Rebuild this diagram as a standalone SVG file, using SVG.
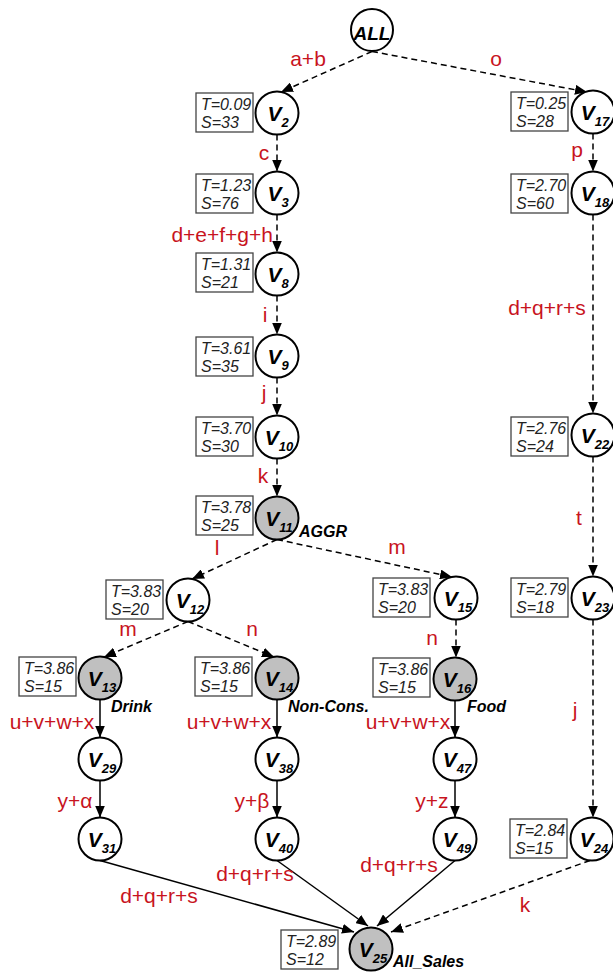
<svg xmlns="http://www.w3.org/2000/svg" width="613" height="973" viewBox="0 0 613 973">
  <defs>
    <marker id="arrow" markerUnits="userSpaceOnUse" markerWidth="12" markerHeight="10" refX="12" refY="5" orient="auto">
      <path d="M0,0 L12,5 L0,10 z" fill="#000"/>
    </marker>
    <style>
      .node circle { fill: #fff; stroke: #000; stroke-width: 2; }
      .node.agg circle { fill: #c0c0c0; }
      .box { fill: #fff; stroke: #444; stroke-width: 1.3; }
      .st { font-family: "Liberation Sans", Arial, sans-serif; font-style: italic; font-size: 16px; fill: #222; }
      .nl { font-family: "Liberation Sans", Arial, sans-serif; font-style: italic; font-weight: bold; font-size: 21px; fill: #000; text-anchor: middle; }
      .sub { font-size: 13px; }
      .tag { font-family: "Liberation Sans", Arial, sans-serif; font-style: italic; font-weight: bold; font-size: 16px; fill: #000; }
      .el { font-family: "Liberation Sans", Arial, sans-serif; font-size: 21px; fill: #c8141e; text-anchor: middle; }
      .dash { fill: none; stroke: #000; stroke-width: 1.5; stroke-dasharray: 6 4; marker-end: url(#arrow); }
      .solid { fill: none; stroke: #000; stroke-width: 1.5; marker-end: url(#arrow); }
    </style>
  </defs>
  <rect width="613" height="973" fill="#fff"/>

  <!-- connectors -->
  <g id="edges">
    <path class="dash" d="M372,51.5 L281,92"/>
    <path class="dash" d="M372,51.5 L587,92"/>
    <path class="dash" d="M277,134.5 L277,171.5"/>
    <path class="dash" d="M277,214.5 L277,252.5"/>
    <path class="dash" d="M277,295.5 L277,334.5"/>
    <path class="dash" d="M277,377.5 L277,415.5"/>
    <path class="dash" d="M277,458.5 L277,496.5"/>
    <path class="dash" d="M277,539.5 L192,579"/>
    <path class="dash" d="M277,539.5 L452,577"/>
    <path class="dash" d="M188,621.5 L104,657"/>
    <path class="dash" d="M188,621.5 L274,657"/>
    <path class="dash" d="M456,619.5 L456,657.5"/>
    <path class="solid" d="M100,699.5 L100,737.5"/>
    <path class="solid" d="M277,699.5 L277,737.5"/>
    <path class="solid" d="M455,700.5 L455,737.5"/>
    <path class="solid" d="M100,780.5 L100,817.5"/>
    <path class="solid" d="M277,780.5 L277,817.5"/>
    <path class="solid" d="M455,780.5 L455,817.5"/>
    <path class="dash" d="M593,133.5 L593,171.5"/>
    <path class="dash" d="M593,214.5 L593,413.5"/>
    <path class="dash" d="M593,456.5 L593,576.5"/>
    <path class="dash" d="M593,619.5 L593,817.5"/>
    <path class="solid" d="M100,860.5 L354,932"/>
    <path class="solid" d="M277,860.5 L368,926"/>
    <path class="solid" d="M455,860.5 L377,926"/>
    <path class="dash" d="M590,860.5 L391,932"/>
  </g>

  <!-- edge labels -->
  <g id="edge-labels">
    <text class="el" x="308" y="66">a+b</text>
    <text class="el" x="496" y="66">o</text>
    <text class="el" x="264" y="160">c</text>
    <text class="el" x="577" y="157">p</text>
    <text class="el" x="273" y="242" text-anchor="end" style="text-anchor:end">d+e+f+g+h</text>
    <text class="el" x="265" y="322">i</text>
    <text class="el" x="264" y="400">j</text>
    <text class="el" x="263" y="483">k</text>
    <text class="el" x="547" y="315">d+q+r+s</text>
    <text class="el" x="579" y="525">t</text>
    <text class="el" x="217" y="555">l</text>
    <text class="el" x="397" y="554">m</text>
    <text class="el" x="128" y="636">m</text>
    <text class="el" x="252" y="636">n</text>
    <text class="el" x="432" y="645">n</text>
    <text class="el" x="52" y="729">u+v+w+x</text>
    <text class="el" x="229" y="729">u+v+w+x</text>
    <text class="el" x="408" y="729">u+v+w+x</text>
    <text class="el" x="575" y="717">j</text>
    <text class="el" x="75" y="808">y+α</text>
    <text class="el" x="252" y="808">y+β</text>
    <text class="el" x="432" y="808">y+z</text>
    <text class="el" x="159" y="903">d+q+r+s</text>
    <text class="el" x="255" y="881">d+q+r+s</text>
    <text class="el" x="399" y="872">d+q+r+s</text>
    <text class="el" x="525" y="912">k</text>
  </g>

  <!-- nodes -->
  <g id="ALL" class="node">
    <circle cx="372" cy="30" r="21"/>
    <text class="nl" x="372" y="40" style="font-size:19px">ALL</text>
  </g>
  <g id="V2" class="node">
    <rect class="box" x="196" y="93" width="57" height="39"/>
    <text class="st" x="201" y="110">T=0.09</text>
    <text class="st" x="201" y="128">S=33</text>
    <circle cx="277" cy="113" r="21.5"/>
    <text class="nl" x="278" y="121">V<tspan class="sub" dy="6">2</tspan></text>
  </g>
  <g id="V3" class="node">
    <rect class="box" x="196" y="174" width="57" height="39"/>
    <text class="st" x="201" y="191">T=1.23</text>
    <text class="st" x="201" y="209">S=76</text>
    <circle cx="277" cy="193" r="21.5"/>
    <text class="nl" x="278" y="201">V<tspan class="sub" dy="6">3</tspan></text>
  </g>
  <g id="V8" class="node">
    <rect class="box" x="196" y="253" width="57" height="39"/>
    <text class="st" x="201" y="270">T=1.31</text>
    <text class="st" x="201" y="288">S=21</text>
    <circle cx="277" cy="274" r="21.5"/>
    <text class="nl" x="278" y="282">V<tspan class="sub" dy="6">8</tspan></text>
  </g>
  <g id="V9" class="node">
    <rect class="box" x="196" y="337" width="57" height="39"/>
    <text class="st" x="201" y="354">T=3.61</text>
    <text class="st" x="201" y="372">S=35</text>
    <circle cx="277" cy="356" r="21.5"/>
    <text class="nl" x="278" y="364">V<tspan class="sub" dy="6">9</tspan></text>
  </g>
  <g id="V10" class="node">
    <rect class="box" x="196" y="417" width="57" height="39"/>
    <text class="st" x="201" y="434">T=3.70</text>
    <text class="st" x="201" y="452">S=30</text>
    <circle cx="277" cy="437" r="21.5"/>
    <text class="nl" x="279" y="445">V<tspan class="sub" dy="6">10</tspan></text>
  </g>
  <g id="V11" class="node agg">
    <rect class="box" x="196" y="496" width="57" height="39"/>
    <text class="st" x="201" y="513">T=3.78</text>
    <text class="st" x="201" y="531">S=25</text>
    <circle cx="277" cy="518" r="21.5"/>
    <text class="nl" x="279" y="526">V<tspan class="sub" dy="6">11</tspan></text>
    <text class="tag" x="299" y="537">AGGR</text>
  </g>
  <g id="V12" class="node">
    <rect class="box" x="106" y="580" width="57" height="39"/>
    <text class="st" x="111" y="597">T=3.83</text>
    <text class="st" x="111" y="615">S=20</text>
    <circle cx="188" cy="600" r="21.5"/>
    <text class="nl" x="190" y="608">V<tspan class="sub" dy="6">12</tspan></text>
  </g>
  <g id="V15" class="node">
    <rect class="box" x="373" y="578" width="57" height="39"/>
    <text class="st" x="378" y="595">T=3.83</text>
    <text class="st" x="378" y="613">S=20</text>
    <circle cx="456" cy="598" r="21.5"/>
    <text class="nl" x="458" y="606">V<tspan class="sub" dy="6">15</tspan></text>
  </g>
  <g id="V13" class="node agg">
    <rect class="box" x="19" y="657" width="57" height="39"/>
    <text class="st" x="24" y="674">T=3.86</text>
    <text class="st" x="24" y="692">S=15</text>
    <circle cx="100" cy="678" r="21.5"/>
    <text class="nl" x="102" y="686">V<tspan class="sub" dy="6">13</tspan></text>
    <text class="tag" x="111" y="712">Drink</text>
  </g>
  <g id="V14" class="node agg">
    <rect class="box" x="195" y="657" width="57" height="39"/>
    <text class="st" x="200" y="674">T=3.86</text>
    <text class="st" x="200" y="692">S=15</text>
    <circle cx="277" cy="678" r="21.5"/>
    <text class="nl" x="279" y="686">V<tspan class="sub" dy="6">14</tspan></text>
    <text class="tag" x="288" y="712">Non-Cons.</text>
  </g>
  <g id="V16" class="node agg">
    <rect class="box" x="373" y="658" width="57" height="39"/>
    <text class="st" x="378" y="675">T=3.86</text>
    <text class="st" x="378" y="693">S=15</text>
    <circle cx="455" cy="679" r="21.5"/>
    <text class="nl" x="457" y="687">V<tspan class="sub" dy="6">16</tspan></text>
    <text class="tag" x="467" y="712">Food</text>
  </g>
  <g id="V29" class="node">
    <circle cx="100" cy="759" r="21.5"/>
    <text class="nl" x="102" y="767">V<tspan class="sub" dy="6">29</tspan></text>
  </g>
  <g id="V38" class="node">
    <circle cx="277" cy="759" r="21.5"/>
    <text class="nl" x="279" y="767">V<tspan class="sub" dy="6">38</tspan></text>
  </g>
  <g id="V47" class="node">
    <circle cx="455" cy="759" r="21.5"/>
    <text class="nl" x="457" y="767">V<tspan class="sub" dy="6">47</tspan></text>
  </g>
  <g id="V31" class="node">
    <circle cx="100" cy="839" r="21.5"/>
    <text class="nl" x="102" y="847">V<tspan class="sub" dy="6">31</tspan></text>
  </g>
  <g id="V40" class="node">
    <circle cx="277" cy="839" r="21.5"/>
    <text class="nl" x="279" y="847">V<tspan class="sub" dy="6">40</tspan></text>
  </g>
  <g id="V49" class="node">
    <circle cx="455" cy="839" r="21.5"/>
    <text class="nl" x="457" y="847">V<tspan class="sub" dy="6">49</tspan></text>
  </g>
  <g id="V17" class="node">
    <rect class="box" x="511" y="92" width="57" height="39"/>
    <text class="st" x="516" y="109">T=0.25</text>
    <text class="st" x="516" y="127">S=28</text>
    <circle cx="593" cy="112" r="21.5"/>
    <text class="nl" x="595" y="120">V<tspan class="sub" dy="6">17</tspan></text>
  </g>
  <g id="V18" class="node">
    <rect class="box" x="511" y="174" width="57" height="39"/>
    <text class="st" x="516" y="191">T=2.70</text>
    <text class="st" x="516" y="209">S=60</text>
    <circle cx="593" cy="193" r="21.5"/>
    <text class="nl" x="595" y="201">V<tspan class="sub" dy="6">18</tspan></text>
  </g>
  <g id="V22" class="node">
    <rect class="box" x="511" y="417" width="57" height="39"/>
    <text class="st" x="516" y="434">T=2.76</text>
    <text class="st" x="516" y="452">S=24</text>
    <circle cx="593" cy="435" r="21.5"/>
    <text class="nl" x="595" y="443">V<tspan class="sub" dy="6">22</tspan></text>
  </g>
  <g id="V23" class="node">
    <rect class="box" x="511" y="578" width="57" height="39"/>
    <text class="st" x="516" y="595">T=2.79</text>
    <text class="st" x="516" y="613">S=18</text>
    <circle cx="593" cy="598" r="21.5"/>
    <text class="nl" x="595" y="606">V<tspan class="sub" dy="6">23</tspan></text>
  </g>
  <g id="V24" class="node">
    <rect class="box" x="510" y="819" width="57" height="39"/>
    <text class="st" x="515" y="836">T=2.84</text>
    <text class="st" x="515" y="854">S=15</text>
    <circle cx="592" cy="839" r="21.5"/>
    <text class="nl" x="594" y="847">V<tspan class="sub" dy="6">24</tspan></text>
  </g>
  <g id="V25" class="node agg">
    <rect class="box" x="281" y="930" width="57" height="39"/>
    <text class="st" x="286" y="947">T=2.89</text>
    <text class="st" x="286" y="965">S=12</text>
    <circle cx="371" cy="949" r="21.5"/>
    <text class="nl" x="373" y="957">V<tspan class="sub" dy="6">25</tspan></text>
    <text class="tag" x="393" y="967">All_Sales</text>
  </g>
</svg>
